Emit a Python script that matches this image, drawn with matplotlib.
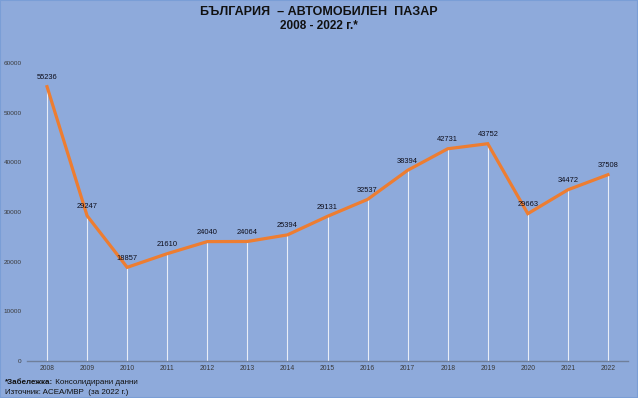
import matplotlib
matplotlib.use("Agg")
import matplotlib.pyplot as plt

years = ["2008", "2009", "2010", "2011", "2012", "2013", "2014", "2015",
         "2016", "2017", "2018", "2019", "2020", "2021", "2022"]
sales = [55236, 29247, 18857, 21610, 24040, 24064, 25394, 29131,
         32537, 38394, 42731, 43752, 29663, 34472, 37508]
yticks = [0, 10000, 20000, 30000, 40000, 50000, 60000]

title1 = "БЪЛГАРИЯ  – АВТОМОБИЛЕН  ПАЗАР"
title2 = "2008 - 2022 г.*"
note_bold = "*Забележка:"
note_rest = " Консолидирани данни"
source = "Източник: ACEA/МВР  (за 2022 г.)"

bg = "#8EAADB"
plt.rcParams['font.family'] = ['Liberation Sans', 'DejaVu Sans']

fig = plt.figure(figsize=(6.38, 3.98), dpi=100, facecolor=bg)
ax = fig.add_axes([27/638, 1-361/398, (628-27)/638, (361-63)/398])
ax.set_facecolor(bg)

x = list(range(len(years)))
ax.vlines(x, 0, sales, colors="white", linewidth=0.8, alpha=0.8, zorder=1)
ax.plot(x, sales, color="#ED7D31", linewidth=2.3, zorder=3,
        solid_joinstyle="miter")
for xi, v in zip(x, sales):
    ax.annotate(str(v), (xi, v), xytext=(0, 6.5), textcoords="offset points",
                ha="center", va="center", fontsize=5.4, color="#0d0d1a", zorder=4)

ax.set_xlim(-0.5, len(years) - 0.5)
ax.set_ylim(0, 60000)
ax.set_yticks(yticks)
ax.set_yticklabels([str(t) for t in yticks], fontsize=4.6, color="#3a3a3a")
ax.set_xticks(x)
ax.set_xticklabels(years, fontsize=4.9, color="#3a3a3a")
ax.tick_params(axis="both", length=0, pad=4)
ax.tick_params(axis="x", pad=3)
for s in ["top", "right", "left"]:
    ax.spines[s].set_visible(False)
ax.spines["bottom"].set_color("#6f7f9a")
ax.spines["bottom"].set_linewidth(1.0)

fig.text(0.5, 1-12/398, title1, ha="center", va="center", fontsize=9,
         fontweight="bold", color="#111111")
fig.text(0.5, 1-26/398, title2, ha="center", va="center", fontsize=8.5,
         fontweight="bold", color="#111111")

fam = ['Liberation Sans Narrow', 'Liberation Sans', 'DejaVu Sans']
t = fig.text(5/638, 1-383/398, note_bold, ha="left", va="center", fontsize=5.8,
             fontweight="bold", color="#111111", family=fam)
fig.canvas.draw()
bb = t.get_window_extent()
fig.text(bb.x1/638, 1-383/398, note_rest, ha="left", va="center", fontsize=5.8,
         color="#111111", family=fam)
fig.text(5/638, 1-392/398, source, ha="left", va="center", fontsize=5.8,
         color="#111111", family=fam)

fig.patches.append(plt.Rectangle((0, 0), 1, 1, transform=fig.transFigure,
                                 fill=False, edgecolor="#7a9ed6", linewidth=1.5))

fig.savefig("out.png", dpi=100, facecolor=bg)
